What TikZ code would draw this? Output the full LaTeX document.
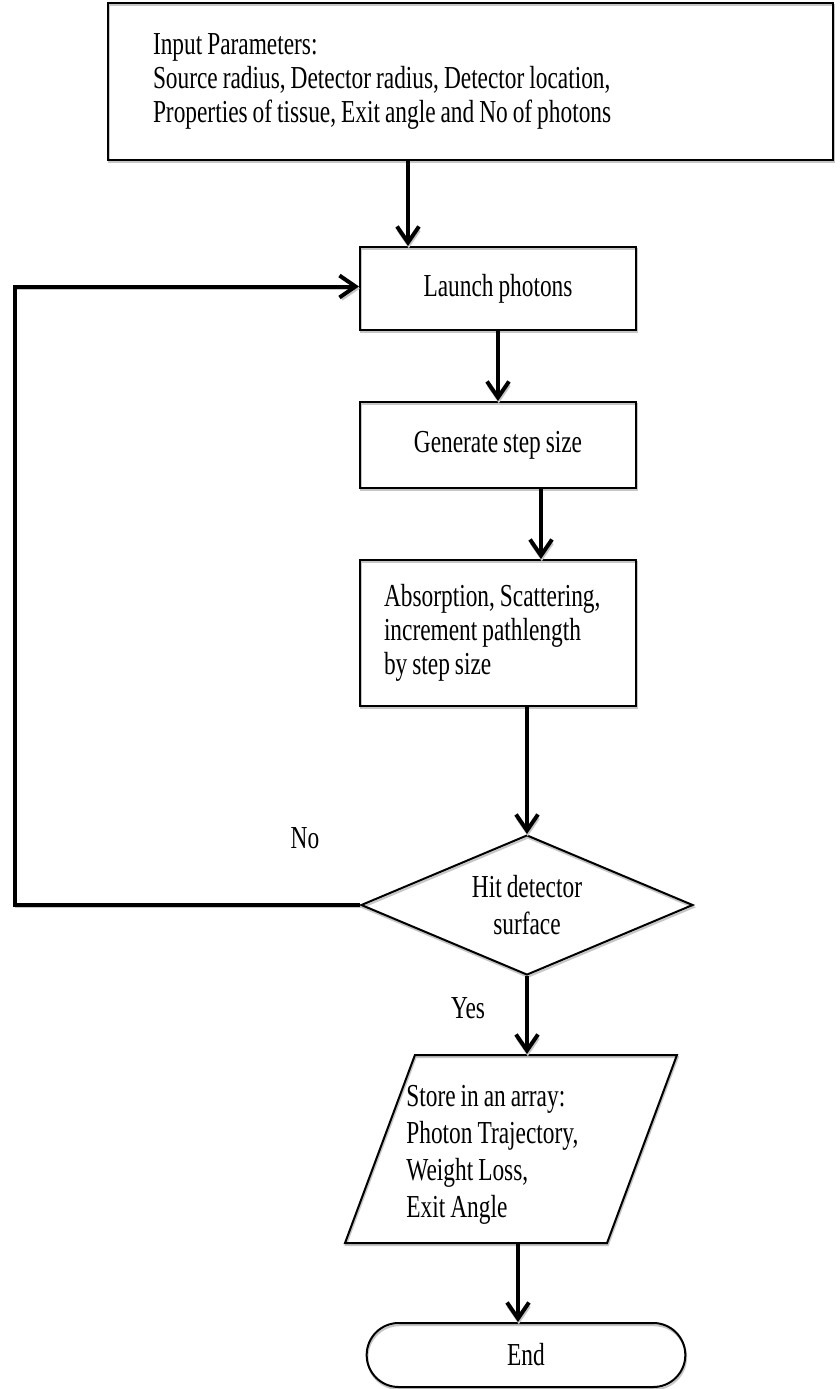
\documentclass[tikz,border=0pt]{standalone}
\usepackage{fontspec}
\setmainfont{Liberation Serif}[FakeStretch=0.73,WordSpace=0.85]
\usetikzlibrary{arrows.meta,positioning,shapes.geometric,shapes.misc}

\begin{document}
\begin{tikzpicture}[x=0.5pt,y=-0.5pt,
  every node/.style={font=\fontsize{16}{17}\selectfont},
  ghost/.style={preaction={draw=gray!45,line width=1pt,
                transform canvas={shift={(0.4pt,-1.1pt)}}}},
  box/.style={draw,line width=1pt,ghost,minimum width=138pt},
  flow/.style={-{Straight Barb[length=8pt,width=11pt]},line width=2pt,ghost},
  lbl/.style={inner sep=0pt,align=flush left},
  wide/.style={font=\fontsize{16}{18.5}\selectfont}]
\useasboundingbox (0,0) rectangle (840,1389);
\node[box,minimum width=362.5pt,minimum height=78.5pt,text width=317.5pt,align=flush left]
  (inp) at (470.5,81.5) {Input Parameters:\\ Source radius, Detector radius, Detector location,\\ Properties of tissue, Exit angle and No of photons};
\node[box,minimum height=41.5pt] (launch) at (498,288.5) {Launch photons};
\node[box,minimum height=43pt] (gen) at (498,445) {Generate step size};
\node[box,minimum height=73pt,text width=114pt,align=flush left]
  (absorb) at (498,633) {Absorption, Scattering,\\ increment pathlength\\ by step size};
\node[draw,diamond,line width=1pt,ghost,minimum width=166pt,minimum height=70pt,
  aspect=2.37,inner sep=0pt,align=center,wide] (dec) at (527,905) {Hit detector\\ surface};
\node[draw,trapezium,trapezium left angle=70,trapezium right angle=110,
  trapezium stretches=true,line width=1pt,ghost,minimum width=166pt,minimum height=94pt]
  (store) at (511,1149) {};
\node[lbl,wide,anchor=west] (storetxt) at (406,1155) {Store in an array:\\ Photon Trajectory,\\ Weight Loss,\\ Exit Angle};
\node[draw,rounded rectangle,line width=1pt,ghost,minimum width=166pt,minimum height=32pt]
  (fin) at (526,1355) {End};
\node (no) at (305,838) {No};
\node (yes) at (468,1008) {Yes};
\draw[flow] ([xshift=-45pt]launch.north |- inp.south) -- ([xshift=-45pt]launch.north);
\draw[flow] (launch.south) -- (gen.north);
\draw[flow] ([xshift=21.5pt]gen.south) -- ([xshift=21.5pt]gen.south |- absorb.north);
\draw[flow] (absorb.south -| dec.north) -- (dec.north);
\draw[flow] (dec.south) -- (dec.south |- store.north);
\draw[flow] ([xshift=-4pt]fin.north |- store.south) -- ([xshift=-4pt]fin.north);
\draw[flow] (dec.west) -- ++(-172.5pt,0) |- ([yshift=1pt]launch.west);
\end{tikzpicture}
\end{document}
